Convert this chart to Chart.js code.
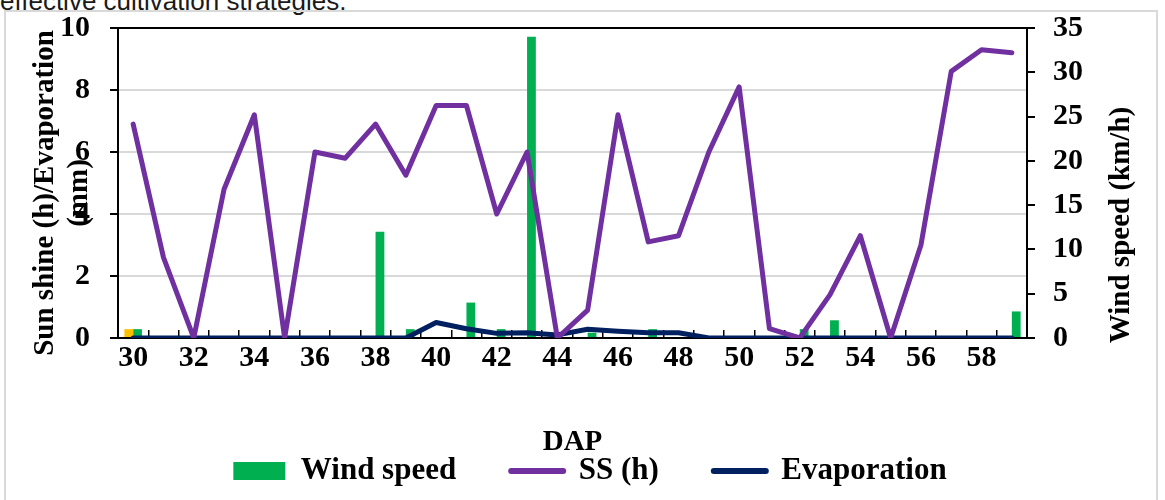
<!DOCTYPE html>
<html>
<head>
<meta charset="utf-8">
<script src="https://cdn.jsdelivr.net/npm/chart.js@4.4.0/dist/chart.umd.min.js"></script>
<style>
  html, body { margin:0; padding:0; background:#fff; width:1165px; height:500px; overflow:hidden; }
  #cap { position:absolute; left:0; top:-12px; font-size:26px; line-height:26px; font-family:"Liberation Sans", Arial, sans-serif; color:#1a1a1a; white-space:nowrap; }
  #frame { position:absolute; left:4px; top:10px; width:1154px; height:520px; border:2px solid #d9d9d9; box-sizing:border-box; }
  #wrap { position:absolute; left:0; top:0; width:1165px; height:500px; }
</style>
</head>
<body>
<div id="cap">effective cultivation strategies.</div>
<div id="frame"></div>
<div id="wrap"><canvas id="c" width="1165" height="500"></canvas></div>
<script>
// ---- data ----
const dap = [30,31,32,33,34,35,36,37,38,39,40,41,42,43,44,45,46,47,48,49,50,51,52,53,54,55,56,57,58,59];
const ssHours = [6.9,2.6,0,4.8,7.2,0,6.0,5.8,6.9,5.25,7.5,7.5,4.0,6.0,0,0.9,7.2,3.1,3.3,6.0,8.1,0.3,0,1.4,3.3,0,3.0,8.6,9.3,9.2];
const evaporation = [0,0,0,0,0,0,0,0,0,0,0.5,0.3,0.15,0.17,0.1,0.28,0.22,0.17,0.17,0,0,0,0,0,0,0,0,0,0,0];
const windSpeed = [1,0,0,0,0,0,0,0,12,1,0,4,1,34,0,0.6,0,1,0,0,0,0,1,2,0,0,0,0,0,3];
const rainfall = [1,null,null,null,null,null,null,null,null,null,null,null,null,null,null,null,null,null,null,null,null,null,null,null,null,null,null,null,null,null];
const leftTicks = [0,2,4,6,8,10];
const rightTicks = [0,5,10,15,20,25,30,35];
const leftTitle = ["Sun shine (h)/Evaporation", "(mm)"];
const rightTitle = "Wind speed (km/h)";
const xTitle = "DAP";
const legendOrder = ["Wind speed", "SS (h)", "Evaporation"];

const FONT = "Liberation Serif";
const tickFont = { family: FONT, size: 30, weight: "bold" };

const decor = {
  id: "decor",
  afterDraw(chart) {
    const { ctx, chartArea: a } = chart;
    ctx.save();
    ctx.strokeStyle = "#000";
    ctx.lineWidth = 2;
    ctx.beginPath();
    ctx.moveTo(a.left - 1, a.top);
    ctx.lineTo(a.right + 1, a.top);
    ctx.stroke();
    ctx.fillStyle = "#000";
    ctx.font = "bold 29px '" + FONT + "'";
    ctx.textAlign = "center";
    ctx.textBaseline = "middle";
    const midY = a.top + 165;
    ctx.save(); ctx.translate(a.left - 72, midY); ctx.rotate(-Math.PI / 2); ctx.fillText(leftTitle[0], 0, 0); ctx.restore();
    ctx.save(); ctx.translate(a.left - 38, midY); ctx.rotate(-Math.PI / 2); ctx.fillText(leftTitle[1], 0, 0); ctx.restore();
    ctx.save(); ctx.translate(a.right + 95, a.top + 197); ctx.rotate(-Math.PI / 2); ctx.fillText(rightTitle, 0, 0); ctx.restore();
    ctx.restore();
  }
};

new Chart(document.getElementById("c"), {
  type: "bar",
  data: {
    labels: dap.map(String),
    datasets: [
      { type: "line", label: "SS (h)", data: ssHours, yAxisID: "y", borderColor: "#7030A0", backgroundColor: "#7030A0",
        borderWidth: 5, pointRadius: 0, tension: 0, borderCapStyle: "round", borderJoinStyle: "round" },
      { type: "line", label: "Evaporation", data: evaporation, yAxisID: "y", borderColor: "#002060", backgroundColor: "#002060",
        borderWidth: 5, pointRadius: 0, tension: 0, borderCapStyle: "round", borderJoinStyle: "round" },
      { type: "bar", label: "Rainfall", data: rainfall, yAxisID: "y1", backgroundColor: "#FFC000",
        barPercentage: 1, categoryPercentage: 0.58 },
      { type: "bar", label: "Wind speed", data: windSpeed, yAxisID: "y1", backgroundColor: "#00B050",
        barPercentage: 1, categoryPercentage: 0.58 }
    ]
  },
  options: {
    responsive: false,
    animation: false,
    layout: { padding: { left: 15, right: 0, top: 28, bottom: 3.5 } },
    plugins: {
      tooltip: { enabled: false },
      legend: {
        position: "bottom",
        labels: {
          usePointStyle: true,
          pointStyleWidth: 52,
          boxHeight: 18,
          padding: 55,
          color: "#000",
          font: { family: FONT, size: 31, weight: "bold" },
          generateLabels(chart) {
            const items = Chart.defaults.plugins.legend.labels.generateLabels(chart);
            items.forEach(it => {
              const ds = chart.data.datasets[it.datasetIndex];
              if (ds.type === "line") {
                it.pointStyle = "line"; it.lineWidth = 6; it.lineCap = "round"; it.strokeStyle = ds.borderColor;
              } else {
                it.pointStyle = "rect"; it.lineWidth = 0; it.fillStyle = ds.backgroundColor; it.strokeStyle = ds.backgroundColor;
              }
            });
            return items.filter(it => legendOrder.includes(it.text))
                        .sort((p, q) => legendOrder.indexOf(p.text) - legendOrder.indexOf(q.text));
          }
        }
      }
    },
    scales: {
      x: {
        type: "category",
        offset: true,
        grid: { display: true, drawOnChartArea: false, drawTicks: true, tickLength: -8, tickColor: "#000", lineWidth: 1.5, offset: true },
        border: { display: true, color: "#000", width: 2 },
        ticks: { autoSkip: false, maxRotation: 0, minRotation: 0, padding: 10.5, color: "#000", font: tickFont,
                 callback: (v, i) => (i % 2 === 0 ? String(dap[i]) : "") },
        title: { display: true, text: xTitle, color: "#000", font: { family: FONT, size: 29, weight: "bold" }, padding: { top: 0, bottom: -59 } },
        afterFit(s) { s.height = 62.5; }
      },
      y: {
        position: "left",
        min: leftTicks[0], max: leftTicks[leftTicks.length - 1],
        afterBuildTicks(s) { s.ticks = leftTicks.map(v => ({ value: v })); },
        grid: { color: c => (c.tick && (c.tick.value === 0 || c.tick.value === 10)) ? "rgba(0,0,0,0)" : "#d9d9d9",
                lineWidth: 2, tickColor: "#000", tickLength: 8, drawTicks: true },
        border: { display: true, color: "#000", width: 2 },
        ticks: { padding: 20, color: "#000", font: tickFont },
        afterFit(s) { s.width = 103; s.paddingTop = 0; s.paddingBottom = 0; }
      },
      y1: {
        position: "right",
        min: rightTicks[0], max: rightTicks[rightTicks.length - 1],
        afterBuildTicks(s) { s.ticks = rightTicks.map(v => ({ value: v })); },
        grid: { drawOnChartArea: false, lineWidth: 2, tickColor: "#000", tickLength: 8, drawTicks: true },
        border: { display: true, color: "#000", width: 2 },
        ticks: { padding: 18, color: "#000", font: tickFont },
        afterFit(s) { s.width = 138; s.paddingTop = 0; s.paddingBottom = 0; }
      }
    }
  },
  plugins: [decor]
});
</script>
</body>
</html>
